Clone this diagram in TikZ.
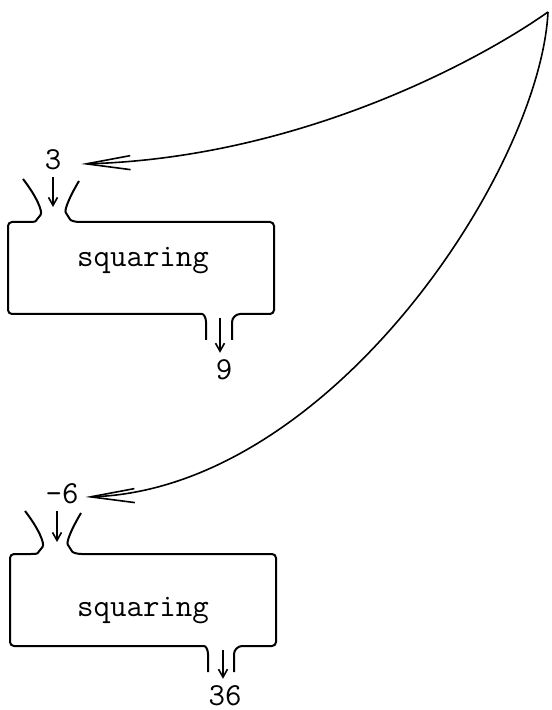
\documentclass[tikz,border=0pt]{standalone}
\usetikzlibrary{arrows.meta}

\begin{document}
\begin{tikzpicture}[x=0.5pt,y=-0.5pt,
  box/.style={line width=1pt,rounded corners=2pt},
  feed/.style={line width=0.8pt,-{Straight Barb[length=4pt,width=4.5pt]}},
  flow/.style={line width=0.8pt,-{Straight Barb[length=22pt,width=7pt]}},
  every node/.style={font=\fontsize{16}{19}\selectfont\ttfamily}]
  \useasboundingbox (0,0) rectangle (551,710);
  % the two squaring machines, funnel in at the top, spout out at the bottom
  \foreach \dx/\dy in {0/0,2/332} {
    \begin{scope}[shift={(\dx,\dy)}]
      \draw[box] (23,179) .. controls (37,197) and (43,212) .. (38,218)
        .. controls (35,222) and (30,222) .. (24,222) -- (8,222) -- (8,314)
        -- (198,314) .. controls (204,314) and (206,318) .. (206,326) -- (206,340);
      \draw[box] (79,181) .. controls (70,196) and (64,210) .. (68,216)
        .. controls (71,221) and (76,222) .. (84,222) -- (274,222) -- (274,314)
        -- (244,314) .. controls (236,314) and (232,318) .. (232,326) -- (232,340);
    \end{scope}
  }
  % (a) upper machine
  \node (ina) at (53,160) {3};
  \node (sqa) at (143,261) {squaring};
  \node (outa) at (224,370) {9};
  \coordinate (snka) at (53,207);
  \coordinate (srca) at (220,318);
  \draw[feed] (ina) -- (snka);
  \draw[feed] (srca) -- (srca |- outa.north);
  % (b) lower machine
  \node (inb) at (62,494) {-6};
  \node (sqb) at (143,611) {squaring};
  \node (outb) at (225,696) {36};
  \coordinate (snkb) at (57,542);
  \coordinate (srcb) at (223,650);
  \draw[feed] (inb.south -| snkb) -- (snkb);
  \draw[feed] (srcb) -- (srcb |- outb.north);
  % the two values come from the same place
  \coordinate (apex) at (548,12);
  \draw[flow] (apex) .. controls (480,60) and (300,158) .. ([shift={(6.5pt,-2pt)}]ina.east);
  \draw[flow] (apex) .. controls (540,170) and (330,490) .. ([yshift=-1.5pt]inb.east);
\end{tikzpicture}
\end{document}
